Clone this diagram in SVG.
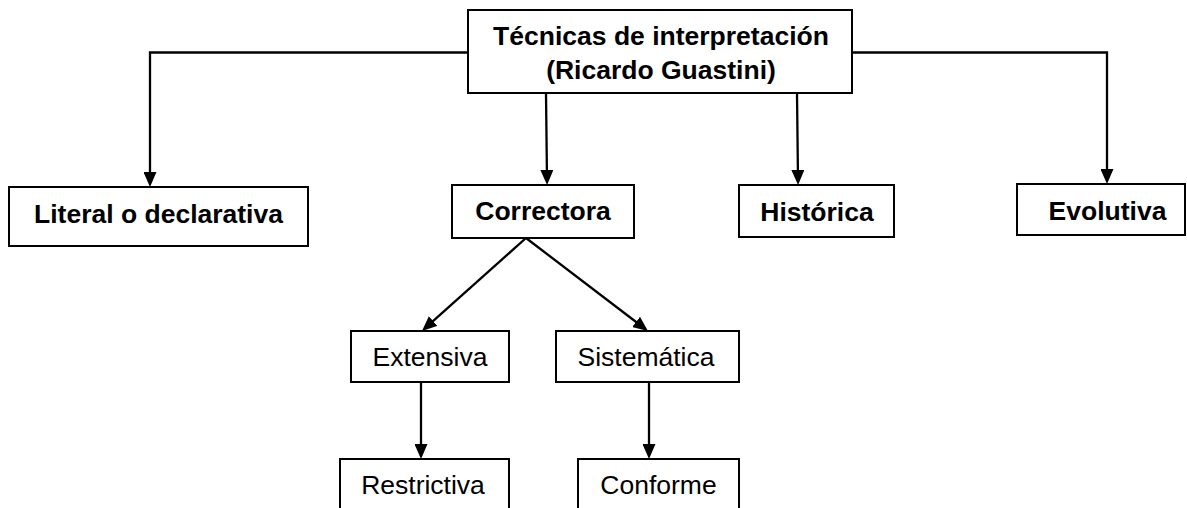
<svg xmlns="http://www.w3.org/2000/svg" width="1187" height="508" viewBox="0 0 1187 508">
  <style>
    .box { fill: #ffffff; stroke: #000000; stroke-width: 2; }
    .lbl { font-family: "Liberation Sans", Arial, sans-serif; font-size: 26.5px; fill: #000000; text-anchor: middle; }
    .b { font-weight: bold; }
    .edge { fill: none; stroke: #000000; stroke-width: 2.3; }
    .arr { marker-end: url(#ah); }
  </style>
  <defs>
    <marker id="ah" markerUnits="userSpaceOnUse" viewBox="0 0 15 13" markerWidth="15" markerHeight="13" refX="10" refY="6.5" orient="auto">
      <path d="M0,0 L15,6.5 L0,13 Z" fill="#000000"/>
    </marker>
  </defs>
  <rect width="1187" height="508" fill="#ffffff"/>

  <g id="connectors">
    <path class="edge arr" d="M468,52.5 L150,52.5 L150,182"/>
    <path class="edge arr" d="M546,93 L547,180"/>
    <path class="edge arr" d="M797,93 L798,180"/>
    <path class="edge arr" d="M852,52.5 L1107,52.5 L1107,179"/>
    <path class="edge arr" d="M526,238 L425.7,327.7"/>
    <path class="edge arr" d="M526,238 L644,328"/>
    <path class="edge arr" d="M421,382 L421,454"/>
    <path class="edge arr" d="M649,382 L649,454"/>
  </g>

  <g id="node-root">
    <rect class="box" x="468" y="10" width="384" height="83"/>
    <text class="lbl b" x="661" y="45">Técnicas de interpretación</text>
    <text class="lbl b" x="661" y="79">(Ricardo Guastini)</text>
  </g>
  <g id="node-literal">
    <rect class="box" x="9" y="187" width="299" height="59"/>
    <text class="lbl b" x="158.5" y="223">Literal o declarativa</text>
  </g>
  <g id="node-correctora">
    <rect class="box" x="452" y="185" width="182" height="53"/>
    <text class="lbl b" x="543" y="220">Correctora</text>
  </g>
  <g id="node-historica">
    <rect class="box" x="739" y="185" width="155" height="52"/>
    <text class="lbl b" x="817" y="221">Histórica</text>
  </g>
  <g id="node-evolutiva">
    <rect class="box" x="1017" y="184" width="168" height="51"/>
    <text class="lbl b" x="1107.5" y="220">Evolutiva</text>
  </g>
  <g id="node-extensiva">
    <rect class="box" x="351" y="331" width="158" height="51"/>
    <text class="lbl" x="430" y="366">Extensiva</text>
  </g>
  <g id="node-sistematica">
    <rect class="box" x="556" y="331" width="183" height="51"/>
    <text class="lbl" x="646" y="366">Sistemática</text>
  </g>
  <g id="node-restrictiva">
    <rect class="box" x="340" y="459" width="169" height="53"/>
    <text class="lbl" x="423" y="494">Restrictiva</text>
  </g>
  <g id="node-conforme">
    <rect class="box" x="578" y="459" width="161" height="53"/>
    <text class="lbl" x="658.5" y="494">Conforme</text>
  </g>
</svg>
